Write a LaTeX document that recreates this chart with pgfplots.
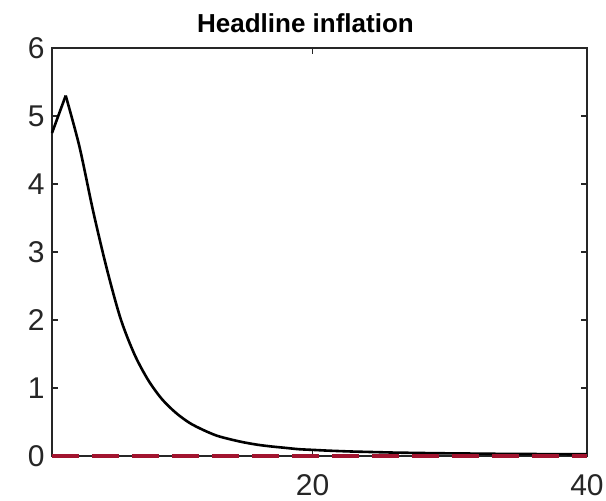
\documentclass[border=0pt]{standalone}
\usepackage{pgfplots}
\pgfplotsset{compat=1.18}
\usepackage{fontspec}
\setmainfont{Liberation Sans}
\definecolor{mred}{rgb}{0.635,0.078,0.184}
\definecolor{axgray}{rgb}{0.15,0.15,0.15}
\begin{document}
\begin{tikzpicture}
\useasboundingbox (-52pt,-45pt) rectangle (554pt,456pt);
\begin{axis}[
  scale only axis,
  width=535pt, height=408pt,
  xmin=1, xmax=40, ymin=0, ymax=6,
  xtick={20,40}, ytick={0,1,2,3,4,5,6},
  tick align=inside,
  major tick length=6pt,
  axis line style={axgray, line width=1.2pt},
  tick style={axgray, line width=1.2pt},
  tick label style={font=\fontsize{30}{36}\selectfont, text=axgray},
  /pgf/number format/assume math mode=true,
  yticklabel style={xshift=-4pt},
  xticklabel style={yshift=-15pt},
  title={\textbf{Headline inflation}},
  title style={font=\fontsize{26}{30}\selectfont, yshift=6pt, xshift=-14pt},
  clip=false,
]
\addplot[black, line width=2.6pt] coordinates {(1,4.75) (2,5.30)};
\addplot[black, line width=2.6pt, smooth, tension=0.5] coordinates {
(2,5.30) (3,4.55) (4,3.60) (5,2.75) (6,2.02) (7,1.50) (8,1.12)
(9,0.84) (10,0.64) (11,0.49) (12,0.385) (13,0.30) (14,0.245) (15,0.20)
(16,0.165) (17,0.14) (18,0.12) (19,0.10) (20,0.09) (21,0.08) (22,0.072)
(23,0.065) (24,0.06) (25,0.055) (26,0.05) (27,0.047) (28,0.044) (29,0.041)
(30,0.039) (31,0.037) (32,0.035) (33,0.033) (34,0.031) (35,0.03) (36,0.029)
(37,0.028) (38,0.027) (39,0.026) (40,0.025)
};
\addplot[mred, line width=4pt, dash pattern=on 27pt off 13pt] coordinates {(1,0) (40,0)};
\end{axis}
\end{tikzpicture}
\end{document}
